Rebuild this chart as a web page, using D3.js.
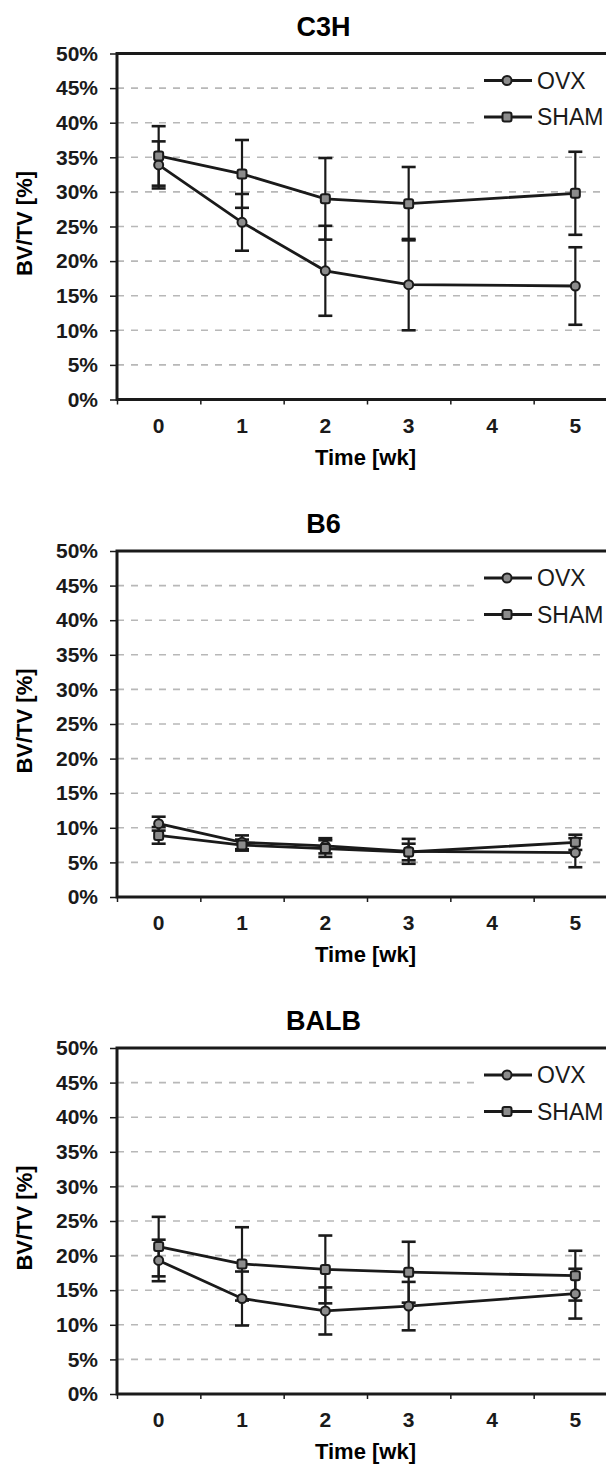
<!DOCTYPE html>
<html>
<head>
<meta charset="utf-8">
<script src="https://cdn.jsdelivr.net/npm/d3@7"></script>
<style>
  body { margin: 0; background: #fff; }
  svg { display: block; font-family: "Liberation Sans", Arial, sans-serif; }
</style>
</head>
<body>
<svg width="606" height="1465"></svg>
<script>
// categories and ticks
const weeks = ["0", "1", "2", "3", "4", "5"]
const yTicks = [0, 5, 10, 15, 20, 25, 30, 35, 40, 45, 50]
const strains = ["C3H", "B6", "BALB"]
const seriesNames = ["OVX", "SHAM"]

// BV/TV mean (%) and error, null = no scan that week
const c3hOvx = [33.9, 25.6, 18.6, 16.6, null, 16.4]
const c3hOvxErr = [3.4, 4.1, 6.5, 6.6, null, 5.6]
const c3hSham = [35.2, 32.6, 29.0, 28.3, null, 29.8]
const c3hShamErr = [4.3, 4.9, 5.9, 5.3, null, 6.0]

const b6Ovx = [10.6, 7.9, 7.4, 6.6, null, 6.4]
const b6OvxErr = [1.0, 1.0, 1.1, 1.8, null, 2.1]
const b6Sham = [8.9, 7.5, 7.0, 6.5, null, 7.9]
const b6ShamErr = [1.2, 0.8, 1.2, 1.2, null, 1.1]

const balbOvx = [19.3, 13.8, 12.0, 12.7, null, 14.5]
const balbOvxErr = [3.0, 3.9, 3.4, 3.5, null, 3.6]
const balbSham = [21.3, 18.8, 18.0, 17.6, null, 17.1]
const balbShamErr = [4.3, 5.3, 4.9, 4.4, null, 3.6]

const panelData = [
    [[c3hOvx, c3hOvxErr], [c3hSham, c3hShamErr]],
    [[b6Ovx, b6OvxErr], [b6Sham, b6ShamErr]],
    [[balbOvx, balbOvxErr], [balbSham, balbShamErr]]
]

const left = 117
const width = 500
const height = 346
const panelTops = [53.5, 551, 1048]
const ink = "#1a1a1a"
const markFill = "#8c8c8c"

const x = d3.scaleBand().domain(weeks).range([0, width])
const xEdge = d3.scaleLinear().domain([0, weeks.length]).range([0, width])
const y = d3.scaleLinear().domain([0, 50]).range([height, 0])

const svg = d3.select("svg")

strains.forEach((name, p) => {
    const top = panelTops[p]
    const g = svg.append("g").attr("transform", `translate(${left},${top})`)

    // title
    svg.append("text")
        .attr("x", 323.5)
        .attr("y", top - 18)
        .attr("text-anchor", "middle")
        .style("font-size", "27px")
        .style("font-weight", "bold")
        .text(name)

    // y label
    svg.append("text")
        .attr("transform", `translate(32,${top + height / 2 - 3}) rotate(-90)`)
        .attr("text-anchor", "middle")
        .style("font-size", "22px")
        .style("font-weight", "bold")
        .text("BV/TV [%]")

    // x label
    svg.append("text")
        .attr("x", 365.5)
        .attr("y", top + height + 65)
        .attr("text-anchor", "middle")
        .style("font-size", "22px")
        .style("font-weight", "bold")
        .text("Time [wk]")

    // dashed grid
    g.selectAll("line.grid")
        .data(yTicks.filter(t => t > 0 && t < 50))
        .enter()
        .append("line")
        .attr("class", "grid")
        .attr("x1", 0)
        .attr("x2", width)
        .attr("y1", d => y(d))
        .attr("y2", d => y(d))
        .style("stroke", "#b8b8b8")
        .style("stroke-width", 1.6)
        .style("stroke-dasharray", "7,7")

    // legend box hides grid behind it
    g.append("rect")
        .attr("x", 359)
        .attr("y", 12)
        .attr("width", 150)
        .attr("height", 76)
        .style("fill", "#fff")

    // y axis
    const yAxis = g.append("g")
        .call(d3.axisLeft(y).tickValues(yTicks).tickFormat(d => d + "%").tickSize(7).tickPadding(12))
    yAxis.select(".domain").remove()
    yAxis.selectAll("line").style("stroke", ink).style("stroke-width", 1.5)
    yAxis.selectAll("text")
        .style("font-size", "21px")
        .style("font-weight", "bold")
        .style("font-family", "'Liberation Sans', Arial, sans-serif")
        .style("fill", ink)

    // x ticks between weeks
    const xTicks = g.append("g")
        .attr("transform", `translate(0,${height})`)
        .call(d3.axisBottom(xEdge).tickValues(d3.range(weeks.length + 1)).tickFormat("").tickSize(5))
    xTicks.select(".domain").remove()
    xTicks.selectAll("line").style("stroke", ink).style("stroke-width", 1.5)

    // x labels
    const xAxis = g.append("g")
        .attr("transform", `translate(0,${height})`)
        .call(d3.axisBottom(x).tickSize(0))
    xAxis.select(".domain").remove()
    xAxis.selectAll("text")
        .attr("y", 33)
        .attr("dy", null)
        .style("font-size", "21px")
        .style("font-weight", "bold")
        .style("font-family", "'Liberation Sans', Arial, sans-serif")
        .style("fill", ink)

    // series
    panelData[p].forEach(([vals, errs], s) => {
        const pts = weeks.map((w, i) => ({ w: w, v: vals[i], e: errs[i] })).filter(d => d.v != null)
        const cx = d => x(d.w) + x.bandwidth() / 2

        const eb = g.append("g")
        eb.selectAll("line.bar")
            .data(pts)
            .enter()
            .append("line")
            .attr("x1", cx).attr("x2", cx)
            .attr("y1", d => y(d.v + d.e))
            .attr("y2", d => y(d.v - d.e))
            .style("stroke", ink).style("stroke-width", 2.2)
        eb.selectAll("line.capHi")
            .data(pts)
            .enter()
            .append("line")
            .attr("x1", d => cx(d) - 7).attr("x2", d => cx(d) + 7)
            .attr("y1", d => y(d.v + d.e)).attr("y2", d => y(d.v + d.e))
            .style("stroke", ink).style("stroke-width", 2.6)
        eb.selectAll("line.capLo")
            .data(pts)
            .enter()
            .append("line")
            .attr("x1", d => cx(d) - 7).attr("x2", d => cx(d) + 7)
            .attr("y1", d => y(d.v - d.e)).attr("y2", d => y(d.v - d.e))
            .style("stroke", ink).style("stroke-width", 2.6)

        g.append("path")
            .datum(pts)
            .attr("d", d3.line().x(cx).y(d => y(d.v)))
            .style("fill", "none")
            .style("stroke", ink)
            .style("stroke-width", 2.8)
    })

    // markers on top
    panelData[p].forEach(([vals], s) => {
        const pts = weeks.map((w, i) => ({ w: w, v: vals[i] })).filter(d => d.v != null)
        const cx = d => x(d.w) + x.bandwidth() / 2
        if (s == 0) {
            g.selectAll("circle.m" + s)
                .data(pts)
                .enter()
                .append("circle")
                .attr("cx", cx)
                .attr("cy", d => y(d.v))
                .attr("r", 4.5)
                .style("fill", markFill).style("stroke", ink).style("stroke-width", 2)
        } else {
            g.selectAll("rect.m" + s)
                .data(pts)
                .enter()
                .append("rect")
                .attr("x", d => cx(d) - 4.5)
                .attr("y", d => y(d.v) - 4.5)
                .attr("width", 9).attr("height", 9).attr("rx", 2)
                .style("fill", markFill).style("stroke", ink).style("stroke-width", 2)
        }
    })

    // frame
    g.append("rect")
        .attr("width", width)
        .attr("height", height)
        .style("fill", "none")
        .style("stroke", ink)
        .style("stroke-width", 3)

    // legend
    seriesNames.forEach((s, i) => {
        const ly = 27 + i * 36.5
        g.append("line")
            .attr("x1", 367).attr("x2", 415)
            .attr("y1", ly).attr("y2", ly)
            .style("stroke", ink).style("stroke-width", 2.8)
        if (i == 0) {
            g.append("circle").attr("cx", 390).attr("cy", ly).attr("r", 4.5)
                .style("fill", markFill).style("stroke", ink).style("stroke-width", 2)
        } else {
            g.append("rect").attr("x", 385.5).attr("y", ly - 4.5).attr("width", 9).attr("height", 9).attr("rx", 2)
                .style("fill", markFill).style("stroke", ink).style("stroke-width", 2)
        }
        g.append("text")
            .attr("x", 420)
            .attr("y", ly + 8)
            .style("font-size", "23px")
            .style("fill", ink)
            .text(s)
    })
})
</script>
</body>
</html>
